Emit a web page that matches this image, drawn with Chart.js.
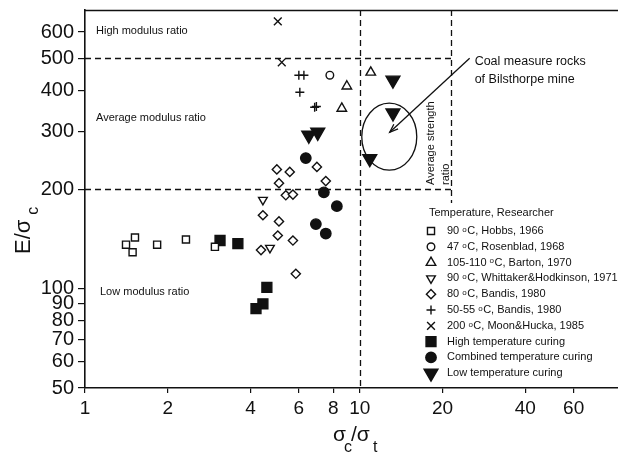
<!DOCTYPE html>
<html>
<head>
<meta charset="utf-8">
<script src="https://cdn.jsdelivr.net/npm/chart.js@4.4.1/dist/chart.umd.min.js"></script>
<style>
  html, body { margin: 0; padding: 0; background: #fff; }
  #wrap { width: 618px; height: 452px; }
</style>
</head>
<body>
<div id="wrap"><canvas id="chart" width="618" height="452"></canvas></div>
<script>
// Modulus ratio E/sigma_c against strength ratio sigma_c/sigma_t (log-log)
const FONT = "'Liberation Sans', Arial, Helvetica, sans-serif";
const INK = '#111';

const xTicks = [1, 2, 4, 6, 8, 10, 20, 40, 60];
const yTicks = [50, 60, 70, 80, 90, 100, 200, 300, 400, 500, 600];

// published data sets
const hobbsX = [1.41, 1.52, 1.49, 1.83, 2.33, 2.97];
const hobbsY = [136, 143, 129, 136, 141, 134];
const rosenbladX = [7.78];
const rosenbladY = [444];
const bartonX = [8.97, 8.6, 10.96];
const bartonY = [411, 352, 453];
const whittakerX = [4.44, 4.71];
const whittakerY = [186, 133];
const bandis80X = [4.99, 5.56, 6.98, 7.52, 5.08, 5.38, 5.71, 4.44, 5.08, 5.03, 5.71, 4.37, 5.85];
const bandis80Y = [230, 226, 234, 212, 209, 192, 193, 167, 160, 145, 140, 131, 111];
const bandis50X = [6.0, 6.26, 6.05, 6.85, 6.95];
const bandis50Y = [444, 444, 394, 355, 357];
const moonX = [5.03, 5.2];
const moonY = [647, 486];

// curing tests
const highCureX = [3.1, 3.6, 4.59, 4.44, 4.19];
const highCureY = [140, 137, 101, 90, 87];
const combinedCureX = [6.36, 7.4, 8.25, 6.92, 7.52];
const combinedCureY = [249, 196, 178, 157, 147];
const lowCureX = [6.52, 7.03, 13.2, 13.2, 10.87];
const lowCureY = [292, 298, 429, 341, 248];

// classification boundaries
const modulusBounds = [200, 500];
const strengthBounds = [10, 21.5];

const series = [
  { label: '90 °C, Hobbs, 1966', x: hobbsX, y: hobbsY, style: 'rect', r: 5 },
  { label: '47 °C, Rosenblad, 1968', x: rosenbladX, y: rosenbladY, style: 'circle', r: 3.8 },
  { label: '105-110 °C, Barton, 1970', x: bartonX, y: bartonY, style: 'triangle', r: 5.5 },
  { label: '90 °C, Whittaker&Hodkinson, 1971', x: whittakerX, y: whittakerY, style: 'triangle', rot: 180, r: 5 },
  { label: '80 °C, Bandis, 1980', x: bandis80X, y: bandis80Y, style: 'rectRot', r: 4.6 },
  { label: '50-55 °C, Bandis, 1980', x: bandis50X, y: bandis50Y, style: 'cross', r: 4.5 },
  { label: '200 °C, Moon&Hucka, 1985', x: moonX, y: moonY, style: 'crossRot', r: 5.5 },
  { label: 'High temperature curing', x: highCureX, y: highCureY, style: 'rect', r: 7, solid: true },
  { label: 'Combined temperature curing', x: combinedCureX, y: combinedCureY, style: 'circle', r: 5.2, solid: true },
  { label: 'Low temperature curing', x: lowCureX, y: lowCureY, style: 'triangle', rot: 180, r: 8, solid: true }
];

const datasets = series.map(s => ({
  label: s.label,
  data: s.x.map((v, i) => ({ x: v, y: s.y[i] })),
  showLine: false,
  pointStyle: s.style,
  rotation: s.rot || 0,
  pointRadius: s.r,
  pointHoverRadius: s.r,
  borderWidth: 1.4,
  pointBorderWidth: 1.4,
  borderColor: INK,
  pointBorderColor: INK,
  pointBackgroundColor: s.solid ? INK : '#fff',
  backgroundColor: s.solid ? INK : '#fff'
}));

// text with the degree sign drawn as a small raised "o"
function degreeText(ctx, str, x, y, size) {
  const parts = str.split('°');
  let cx = x;
  parts.forEach((p, i) => {
    ctx.font = size + 'px ' + FONT;
    ctx.fillText(p, cx, y);
    cx += ctx.measureText(p).width;
    if (i < parts.length - 1) {
      ctx.font = Math.round(size * 0.72) + 'px ' + FONT;
      ctx.fillText('o', cx, y - 1.5);
      cx += ctx.measureText('o').width + 0.5;
    }
  });
}

function strokeLine(ctx, x1, y1, x2, y2) {
  ctx.beginPath();
  ctx.moveTo(x1, y1);
  ctx.lineTo(x2, y2);
  ctx.stroke();
}

const guides = {
  id: 'guides',
  beforeDatasetsDraw(chart) {
    const { ctx, chartArea: a, scales: { x, y } } = chart;
    ctx.save();
    ctx.strokeStyle = INK;
    ctx.lineWidth = 1.3;
    ctx.setLineDash([6, 4]);
    const edge = Math.round(x.getPixelForValue(strengthBounds[1])) + 0.5;
    const edgeBottom = y.getPixelForValue(182);
    modulusBounds.forEach(v => {
      const py = Math.round(y.getPixelForValue(v)) + 0.5;
      strokeLine(ctx, a.left, py, edge, py);
    });
    const px10 = Math.round(x.getPixelForValue(strengthBounds[0])) + 0.5;
    strokeLine(ctx, px10, a.top, px10, a.bottom);
    strokeLine(ctx, edge, a.top, edge, edgeBottom);
    ctx.setLineDash([]);

    // top frame line
    ctx.lineWidth = 1.6;
    strokeLine(ctx, a.left, a.top + 0.5, a.right + 1, a.top + 0.5);

    // region labels
    ctx.fillStyle = INK;
    ctx.font = '11px ' + FONT;
    ctx.textBaseline = 'middle';
    ctx.textAlign = 'left';
    ctx.fillText('High modulus ratio', a.left + 11, 31);
    ctx.fillText('Average modulus ratio', a.left + 11, 118);
    ctx.fillText('Low modulus ratio', a.left + 15, 292);

    // average strength ratio, vertical
    ctx.save();
    ctx.translate(edge - 16, edgeBottom - 18);
    ctx.rotate(-Math.PI / 2);
    ctx.fillText('Average strength', 0, -5);
    ctx.fillText('ratio', 0, 10);
    ctx.restore();

    // Bilsthorpe ellipse and arrow
    const cx = x.getPixelForValue(12.8), cy = y.getPixelForValue(289);
    ctx.lineWidth = 1.3;
    ctx.beginPath();
    ctx.ellipse(cx, cy, 27.5, 33.5, 0, 0, Math.PI * 2);
    ctx.stroke();

    const ax = x.getPixelForValue(25.1), ay = y.getPixelForValue(500);
    const bx = x.getPixelForValue(12.85), by = y.getPixelForValue(298);
    strokeLine(ctx, ax, ay, bx, by);
    const ang = Math.atan2(by - ay, bx - ax);
    ctx.beginPath();
    ctx.moveTo(bx - 9 * Math.cos(ang - 0.35), by - 9 * Math.sin(ang - 0.35));
    ctx.lineTo(bx, by);
    ctx.lineTo(bx - 9 * Math.cos(ang + 0.35), by - 9 * Math.sin(ang + 0.35));
    ctx.stroke();

    ctx.font = '12.5px ' + FONT;
    ctx.fillText('Coal measure rocks', ax + 5, 62);
    ctx.fillText('of Bilsthorpe mine', ax + 5, 80);
    ctx.restore();
  },
  afterDraw(chart) {
    const { ctx } = chart;
    ctx.save();
    ctx.fillStyle = INK;
    ctx.textBaseline = 'middle';
    ctx.textAlign = 'left';

    // legend
    ctx.font = '11px ' + FONT;
    ctx.fillText('Temperature, Researcher', 429, 213);
    series.forEach((s, i) => {
      const ly = 231 + i * 15.8;
      ctx.fillStyle = s.solid ? INK : '#fff';
      ctx.strokeStyle = INK;
      ctx.lineWidth = 1.4;
      Chart.helpers.drawPoint(ctx, {
        pointStyle: s.style, rotation: s.rot || 0, radius: s.r, borderWidth: 1.4
      }, 431, ly);
      ctx.fillStyle = INK;
      degreeText(ctx, s.label, 447, ly, 11);
    });

    // axis titles
    ctx.textBaseline = 'alphabetic';
    ctx.save();
    ctx.translate(30, 254);
    ctx.rotate(-Math.PI / 2);
    ctx.font = '22px ' + FONT;
    ctx.fillText('E/σ', 0, 0);
    const w = ctx.measureText('E/σ').width;
    ctx.font = '16px ' + FONT;
    ctx.fillText('c', w + 5, 8);
    ctx.restore();

    ctx.font = '21px ' + FONT;
    ctx.fillText('σ', 333, 441);
    ctx.fillText('/σ', 351, 441);
    ctx.font = '16px ' + FONT;
    ctx.fillText('c', 344, 452);
    ctx.fillText('t', 373, 452);
    ctx.restore();
  }
};

new Chart(document.getElementById('chart'), {
  type: 'scatter',
  data: { datasets },
  options: {
    responsive: false,
    animation: false,
    devicePixelRatio: 1,
    layout: { autoPadding: false, padding: { top: 10, right: 0, bottom: 0, left: 0 } },
    plugins: { legend: { display: false }, tooltip: { enabled: false } },
    scales: {
      x: {
        type: 'logarithmic',
        min: 1,
        max: 87,
        afterBuildTicks: s => { s.ticks = xTicks.map(v => ({ value: v })); },
        afterFit: s => { s.height = 64; s.paddingLeft = 0; s.paddingRight = 0; },
        ticks: {
          autoSkip: false, maxRotation: 0, color: INK, padding: 4,
          font: { family: FONT, size: 19 },
          callback: v => String(v)
        },
        grid: { drawOnChartArea: false, drawTicks: true, tickLength: 5, color: INK, lineWidth: 1.2 },
        border: { display: true, color: INK, width: 1.6 }
      },
      y: {
        type: 'logarithmic',
        min: 50,
        max: 700,
        afterBuildTicks: s => { s.ticks = yTicks.map(v => ({ value: v })); },
        afterFit: s => { s.width = 85; s.paddingTop = 0; s.paddingBottom = 0; },
        ticks: {
          autoSkip: false, color: INK, padding: 4,
          font: { family: FONT, size: 20 },
          callback: v => String(v)
        },
        grid: { drawOnChartArea: false, drawTicks: true, tickLength: 7, color: INK, lineWidth: 1.2 },
        border: { display: true, color: INK, width: 1.6 }
      }
    }
  },
  plugins: [guides]
});
</script>
</body>
</html>
